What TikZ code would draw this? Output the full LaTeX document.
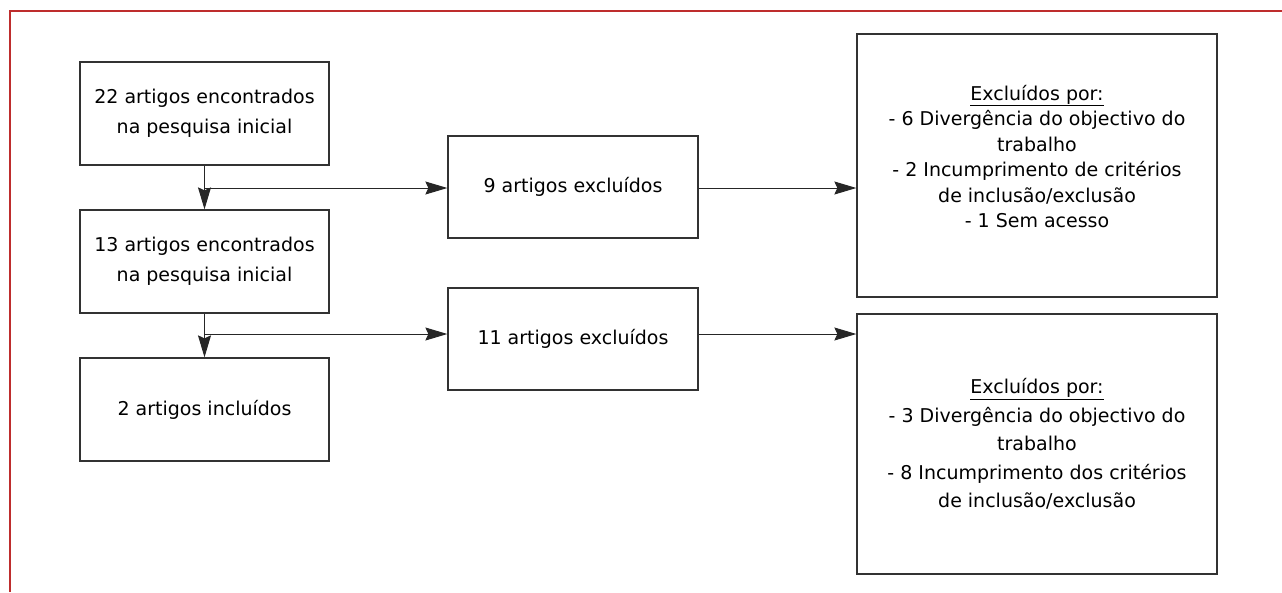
\documentclass[tikz,border=0pt]{standalone}
\usepackage{fontspec}
\setmainfont{DejaVu Sans}
\usetikzlibrary{arrows.meta,calc}
\definecolor{framered}{RGB}{190,45,45}
\definecolor{boxline}{RGB}{50,50,50}
\begin{document}
\begin{tikzpicture}[x=1pt,y=-1pt,
  box/.style={draw=boxline,line width=1.3pt,inner sep=0pt,align=center,font=\fontsize{19}{29.5}\selectfont},
  rbox/.style={draw=boxline,line width=1.3pt,inner sep=0pt,align=center,font=\fontsize{19}{25.5}\selectfont},
  rboxb/.style={rbox,font=\fontsize{19}{28.6}\selectfont},
  conn/.style={draw=black!85,line width=1pt,-{Stealth[length=22pt,width=13pt,inset=3pt]}}]
\useasboundingbox (0,0) rectangle (1282,592);
\fill[white] (0,0) rectangle (1282,592);
\draw[framered,line width=1.6pt] (10,592) -- (10,11) -- (1282,11);
\node[box,minimum width=249pt,minimum height=103pt] (a) at (204.5,113.5) {22 artigos encontrados\\na pesquisa inicial};
\node[box,minimum width=249pt,minimum height=103pt] (b) at (204.5,261.5) {13 artigos encontrados\\na pesquisa inicial};
\node[box,minimum width=249pt,minimum height=103pt] (c) at (204.5,409.5) {2 artigos incluídos};
\node[box,minimum width=250pt,minimum height=102pt] (e1) at (573,187) {9 artigos excluídos};
\node[box,minimum width=250pt,minimum height=102pt] (e2) at (573,339) {11 artigos excluídos};
\node[rbox,minimum width=360pt,minimum height=263pt] (r1) at (1037,165.5) {};
\node[rbox,draw=none] (r1t) at ($(r1.center)+(0,-9)$) {\underline{Excluídos por:}\\- 6 Divergência do objectivo do\\trabalho\\- 2 Incumprimento de critérios\\de inclusão/exclusão\\- 1 Sem acesso};
\node[rboxb,minimum width=360pt,minimum height=260pt] (r2) at (1037,444) {\underline{Excluídos por:}\\- 3 Divergência do objectivo do\\trabalho\\- 8 Incumprimento dos critérios\\de inclusão/exclusão};
\coordinate (j1) at (204.5,188);
\coordinate (j2) at (204.5,334);
\draw[conn] (a.south) -- (b.north);
\draw[conn] (b.south) -- (c.north);
\draw[conn] (j1) -- (j1 -| e1.west);
\draw[conn] (j2) -- (j2 -| e2.west);
\draw[conn] (j1 -| e1.east) -- (j1 -| r1.west);
\draw[conn] (j2 -| e2.east) -- (j2 -| r2.west);
\end{tikzpicture}
\end{document}
